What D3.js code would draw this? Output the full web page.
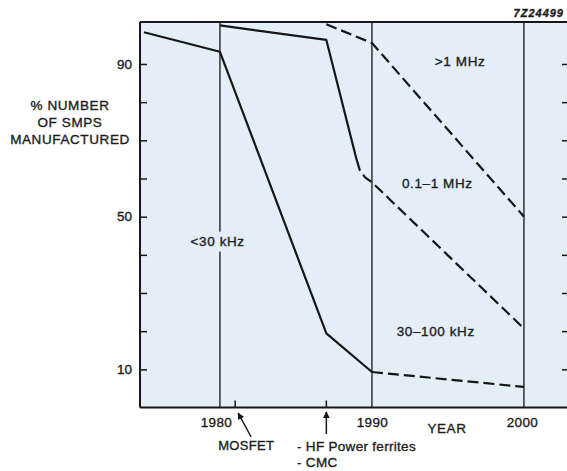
<!DOCTYPE html>
<html>
<head>
<meta charset="utf-8">
<script src="https://cdn.jsdelivr.net/npm/d3@7"></script>
<style>
  html, body { margin: 0; padding: 0; background: #fff; }
  svg { display: block; }
  text { font-family: "Liberation Sans", Arial, Helvetica, sans-serif; fill: #1c1c1c; stroke: #1c1c1c; stroke-width: 0.35px; }
</style>
</head>
<body>
<svg id="chart" width="567" height="471"></svg>
<script>
// ---------------- data ----------------
const yTickValues = [10, 20, 30, 40, 50, 60, 70, 80, 90];
const yTickLabels = [10, 50, 90];
const xTickYears = [1980, 1990, 2000];
const eventYears = [1981, 1987];            // MOSFET, HF power ferrites / CMC

// <30 kHz boundary
const lowSolid  = [[1975, 98.3], [1980, 93.2], [1987, 19.4], [1990, 9.3]];
const lowDashed = [[1990, 9.3], [2000, 5.4]];
// 0.1-1 MHz boundary
const midSolid  = [[1980, 100.1], [1987, 96.3], [1989.0, 64.8]];
const midDashed = [[1989.0, 64.8], [1989.2, 62.2], [1989.55, 60.3], [1990, 59.0], [2000, 20.7]];
// >1 MHz boundary
const highDashed = [[1987, 100.4], [1990, 95.5], [2000, 50.0]];

const regionLabels = [
  { text: ">1 MHz",     year: 1995.8, value: 89.6 },
  { text: "0.1\u20131 MHz",  year: 1994.3, value: 57.5 },
  { text: "30\u2013100 kHz", year: 1994.2, value: 18.8 },
  { text: "<30 kHz",    year: 1979.85, value: 42.4 }
];

// ---------------- layout ----------------
const svg = d3.select("#chart");
const plotLeft = 140, plotRight = 570, plotTop = 22, plotBottom = 407.5;

const x = d3.scaleLinear().domain([1974.74, 2003.03]).range([plotLeft, plotRight]);
const y = d3.scaleLinear().domain([0, 101]).range([plotBottom, plotTop]);

const ink = "#161616";
const bg = "#e3eef8";

// plot background
svg.append("rect")
  .attr("x", plotLeft).attr("y", plotTop)
  .attr("width", plotRight - plotLeft).attr("height", plotBottom - plotTop)
  .attr("fill", bg);

// decade vertical lines
svg.append("g").selectAll("line").data(xTickYears).join("line")
  .attr("x1", d => x(d)).attr("x2", d => x(d))
  .attr("y1", plotTop).attr("y2", plotBottom)
  .attr("stroke", ink).attr("stroke-width", 1.3);

// curves
const line = d3.line().x(d => x(d[0])).y(d => y(d[1]));
const solids = [lowSolid, midSolid];
const dashes = [lowDashed, midDashed, highDashed];
svg.append("g").selectAll("path").data(solids).join("path")
  .attr("d", line).attr("fill", "none").attr("stroke", ink)
  .attr("stroke-width", 2.2).attr("stroke-linejoin", "round");
svg.append("g").selectAll("path").data(dashes).join("path")
  .attr("d", line).attr("fill", "none").attr("stroke", ink)
  .attr("stroke-width", 2.2).attr("stroke-dasharray", "11,5").attr("stroke-linejoin", "round");

// region labels (with background so decade line is interrupted under "<30 kHz")
const lbl = svg.append("g").selectAll("g").data(regionLabels).join("g")
  .attr("transform", d => `translate(${x(d.year)},${y(d.value)})`);
lbl.filter(d => d.text.startsWith("<")).append("rect")
  .attr("x", -31).attr("y", -14).attr("width", 62).attr("height", 20).attr("fill", bg);
lbl.append("text")
  .attr("text-anchor", "middle")
  .attr("font-size", 13.5)
  .attr("letter-spacing", 0.6)
  .text(d => d.text);

// frame: top border
svg.append("line").attr("x1", plotLeft).attr("x2", plotRight)
  .attr("y1", plotTop).attr("y2", plotTop).attr("stroke", ink).attr("stroke-width", 1.8);

// left axis
const yTickFmt = d => yTickLabels.includes(d) ? String(d) : "";
const yAxis = svg.append("g").attr("transform", `translate(${plotLeft},0)`)
  .call(d3.axisLeft(y).tickValues(yTickValues).tickSize(-7).tickPadding(8).tickFormat(yTickFmt));
yAxis.select(".domain").remove();
yAxis.selectAll(".tick line").attr("stroke", ink).attr("stroke-width", 1.5);
yAxis.selectAll(".tick text").attr("font-size", 13.5).attr("font-family", null).attr("fill", null);
svg.append("line").attr("x1", plotLeft).attr("x2", plotLeft)
  .attr("y1", plotTop).attr("y2", plotBottom).attr("stroke", ink).attr("stroke-width", 2);

// right axis ticks
const yAxisR = svg.append("g").attr("transform", `translate(${plotRight},0)`)
  .call(d3.axisRight(y).tickValues(yTickValues).tickSize(-8).tickFormat(""));
yAxisR.select(".domain").remove();
yAxisR.selectAll(".tick line").attr("stroke", ink).attr("stroke-width", 1.5);

// bottom axis
const xAxis = svg.append("g").attr("transform", `translate(0,${plotBottom})`)
  .call(d3.axisBottom(x).tickValues(xTickYears).tickSize(0).tickPadding(10).tickFormat(d3.format("d")));
xAxis.select(".domain").remove();
xAxis.selectAll(".tick text").attr("font-size", 13.5).attr("font-family", null).attr("fill", null)
  .attr("letter-spacing", 0.4).attr("dx", (d, i) => [-4, 0, -2][i]);
svg.append("line").attr("x1", plotLeft).attr("x2", plotRight)
  .attr("y1", plotBottom).attr("y2", plotBottom).attr("stroke", ink).attr("stroke-width", 2);

// event ticks above axis
svg.append("g").selectAll("line").data(eventYears).join("line")
  .attr("x1", d => x(d)).attr("x2", d => x(d))
  .attr("y1", plotBottom - 7).attr("y2", plotBottom)
  .attr("stroke", ink).attr("stroke-width", 1.5);

// arrows
svg.append("defs").append("marker")
  .attr("id", "ah").attr("viewBox", "0 0 10 10").attr("refX", 9).attr("refY", 5)
  .attr("markerWidth", 7).attr("markerHeight", 7).attr("markerUnits", "userSpaceOnUse")
  .attr("orient", "auto")
  .append("path").attr("d", "M0,0 L10,5 L0,10 Z").attr("fill", ink);
const mosX = x(eventYears[0]);
svg.append("line").attr("x1", mosX + 16).attr("y1", 437).attr("x2", mosX + 3).attr("y2", 413)
  .attr("stroke", ink).attr("stroke-width", 1.5).attr("marker-end", "url(#ah)");
const hfX = x(eventYears[1]);
svg.append("line").attr("x1", hfX).attr("y1", 434).attr("x2", hfX).attr("y2", 412)
  .attr("stroke", ink).attr("stroke-width", 1.5).attr("marker-end", "url(#ah)");

// annotation texts
svg.append("text").attr("x", mosX + 11).attr("y", 450).attr("text-anchor", "middle")
  .attr("font-size", 13).attr("letter-spacing", 0.3).text("MOSFET");
svg.append("text").attr("x", 297).attr("y", 451).attr("font-size", 13.5).attr("letter-spacing", 0.3)
  .text("- HF Power ferrites");
svg.append("text").attr("x", 297).attr("y", 467).attr("font-size", 13.5).attr("letter-spacing", 0.3)
  .text("- CMC");
svg.append("text").attr("x", 447).attr("y", 433).attr("text-anchor", "middle")
  .attr("font-size", 13.5).attr("letter-spacing", 0.6).text("YEAR");

// y axis title
const yTitle = ["% NUMBER", "OF SMPS", "MANUFACTURED"];
svg.append("g").selectAll("text").data(yTitle).join("text")
  .attr("x", 70).attr("y", (d, i) => 110 + i * 17)
  .attr("text-anchor", "middle").attr("font-size", 13.5).attr("letter-spacing", 0.6)
  .text(d => d);

// figure code
svg.append("text").attr("x", 564).attr("y", 17).attr("font-size", 11).attr("text-anchor", "end")
  .attr("font-style", "italic").attr("font-weight", "bold").attr("letter-spacing", 1.0)
  .text("7Z24499");
</script>
</body>
</html>
